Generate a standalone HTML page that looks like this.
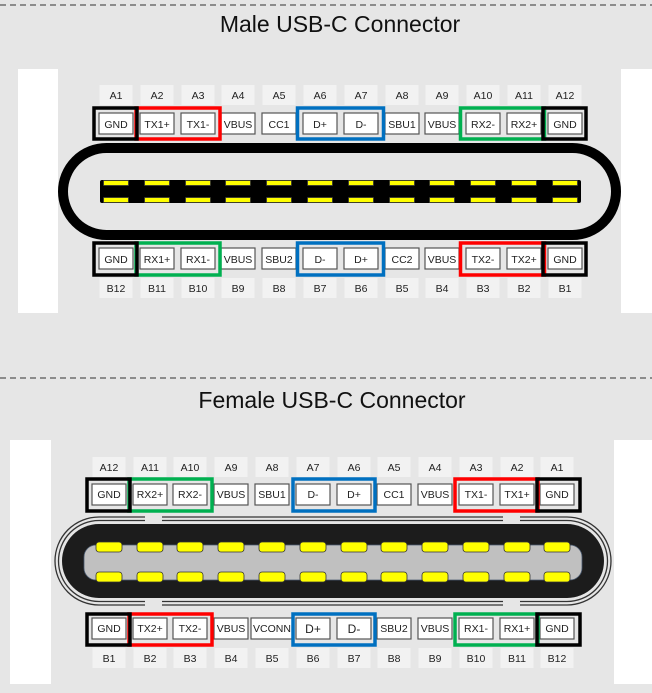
<!DOCTYPE html>
<html><head><meta charset="utf-8"><style>
html,body{margin:0;padding:0;background:#e6e6e6;}
svg{display:block}
.l{fill:#f2f2f2}
.p{fill:#fff;stroke:#555;stroke-width:1.2}
.y{fill:#ffff00;stroke:#333;stroke-width:0.8}
text{font-family:"Liberation Sans",sans-serif;font-size:10.5px;text-anchor:middle;fill:#222}
.t{font-size:23px;fill:#111}
.f{fill:none;stroke-width:3.5}
</style></head><body>
<svg width="652" height="693" viewBox="0 0 652 693" xmlns="http://www.w3.org/2000/svg">
<rect width="652" height="693" fill="#e6e6e6"/>
<line x1="0" y1="5" x2="652" y2="5" stroke="#333" stroke-dasharray="6 4"/>
<line x1="0" y1="378" x2="652" y2="378" stroke="#333" stroke-dasharray="6 4"/>
<text class="t" x="340" y="32">Male USB-C Connector</text>
<text class="t" x="332" y="408">Female USB-C Connector</text>

<!-- MALE -->
<rect x="18" y="69" width="40" height="244" fill="#fff"/>
<rect x="621" y="69" width="31" height="244" fill="#fff"/>
<rect x="63" y="148" width="553" height="87" rx="43.5" fill="none" stroke="#000" stroke-width="10"/>
<rect x="100" y="180" width="481" height="23" rx="2" fill="#000"/>
<g transform="translate(116,0)"><rect class="l" x="-16.5" y="85" width="33" height="20"/><text y="99">A1</text><rect class="p" x="-17" y="113" width="34" height="21"/><text y="128">GND</text><rect class="y" x="-12.5" y="180.5" width="25" height="5"/><rect class="y" x="-12.5" y="197.5" width="25" height="5"/><rect class="p" x="-17" y="248" width="34" height="21"/><text y="263">GND</text><rect class="l" x="-16.5" y="278" width="33" height="20"/><text y="292">B12</text></g>
<g transform="translate(157,0)"><rect class="l" x="-16.5" y="85" width="33" height="20"/><text y="99">A2</text><rect class="p" x="-17" y="113" width="34" height="21"/><text y="128">TX1+</text><rect class="y" x="-12.5" y="180.5" width="25" height="5"/><rect class="y" x="-12.5" y="197.5" width="25" height="5"/><rect class="p" x="-17" y="248" width="34" height="21"/><text y="263">RX1+</text><rect class="l" x="-16.5" y="278" width="33" height="20"/><text y="292">B11</text></g>
<g transform="translate(198,0)"><rect class="l" x="-16.5" y="85" width="33" height="20"/><text y="99">A3</text><rect class="p" x="-17" y="113" width="34" height="21"/><text y="128">TX1-</text><rect class="y" x="-12.5" y="180.5" width="25" height="5"/><rect class="y" x="-12.5" y="197.5" width="25" height="5"/><rect class="p" x="-17" y="248" width="34" height="21"/><text y="263">RX1-</text><rect class="l" x="-16.5" y="278" width="33" height="20"/><text y="292">B10</text></g>
<g transform="translate(238,0)"><rect class="l" x="-16.5" y="85" width="33" height="20"/><text y="99">A4</text><rect class="p" x="-17" y="113" width="34" height="21"/><text y="128">VBUS</text><rect class="y" x="-12.5" y="180.5" width="25" height="5"/><rect class="y" x="-12.5" y="197.5" width="25" height="5"/><rect class="p" x="-17" y="248" width="34" height="21"/><text y="263">VBUS</text><rect class="l" x="-16.5" y="278" width="33" height="20"/><text y="292">B9</text></g>
<g transform="translate(279,0)"><rect class="l" x="-16.5" y="85" width="33" height="20"/><text y="99">A5</text><rect class="p" x="-17" y="113" width="34" height="21"/><text y="128">CC1</text><rect class="y" x="-12.5" y="180.5" width="25" height="5"/><rect class="y" x="-12.5" y="197.5" width="25" height="5"/><rect class="p" x="-17" y="248" width="34" height="21"/><text y="263">SBU2</text><rect class="l" x="-16.5" y="278" width="33" height="20"/><text y="292">B8</text></g>
<g transform="translate(320,0)"><rect class="l" x="-16.5" y="85" width="33" height="20"/><text y="99">A6</text><rect class="p" x="-17" y="113" width="34" height="21"/><text y="128">D+</text><rect class="y" x="-12.5" y="180.5" width="25" height="5"/><rect class="y" x="-12.5" y="197.5" width="25" height="5"/><rect class="p" x="-17" y="248" width="34" height="21"/><text y="263">D-</text><rect class="l" x="-16.5" y="278" width="33" height="20"/><text y="292">B7</text></g>
<g transform="translate(361,0)"><rect class="l" x="-16.5" y="85" width="33" height="20"/><text y="99">A7</text><rect class="p" x="-17" y="113" width="34" height="21"/><text y="128">D-</text><rect class="y" x="-12.5" y="180.5" width="25" height="5"/><rect class="y" x="-12.5" y="197.5" width="25" height="5"/><rect class="p" x="-17" y="248" width="34" height="21"/><text y="263">D+</text><rect class="l" x="-16.5" y="278" width="33" height="20"/><text y="292">B6</text></g>
<g transform="translate(402,0)"><rect class="l" x="-16.5" y="85" width="33" height="20"/><text y="99">A8</text><rect class="p" x="-17" y="113" width="34" height="21"/><text y="128">SBU1</text><rect class="y" x="-12.5" y="180.5" width="25" height="5"/><rect class="y" x="-12.5" y="197.5" width="25" height="5"/><rect class="p" x="-17" y="248" width="34" height="21"/><text y="263">CC2</text><rect class="l" x="-16.5" y="278" width="33" height="20"/><text y="292">B5</text></g>
<g transform="translate(442,0)"><rect class="l" x="-16.5" y="85" width="33" height="20"/><text y="99">A9</text><rect class="p" x="-17" y="113" width="34" height="21"/><text y="128">VBUS</text><rect class="y" x="-12.5" y="180.5" width="25" height="5"/><rect class="y" x="-12.5" y="197.5" width="25" height="5"/><rect class="p" x="-17" y="248" width="34" height="21"/><text y="263">VBUS</text><rect class="l" x="-16.5" y="278" width="33" height="20"/><text y="292">B4</text></g>
<g transform="translate(483,0)"><rect class="l" x="-16.5" y="85" width="33" height="20"/><text y="99">A10</text><rect class="p" x="-17" y="113" width="34" height="21"/><text y="128">RX2-</text><rect class="y" x="-12.5" y="180.5" width="25" height="5"/><rect class="y" x="-12.5" y="197.5" width="25" height="5"/><rect class="p" x="-17" y="248" width="34" height="21"/><text y="263">TX2-</text><rect class="l" x="-16.5" y="278" width="33" height="20"/><text y="292">B3</text></g>
<g transform="translate(524,0)"><rect class="l" x="-16.5" y="85" width="33" height="20"/><text y="99">A11</text><rect class="p" x="-17" y="113" width="34" height="21"/><text y="128">RX2+</text><rect class="y" x="-12.5" y="180.5" width="25" height="5"/><rect class="y" x="-12.5" y="197.5" width="25" height="5"/><rect class="p" x="-17" y="248" width="34" height="21"/><text y="263">TX2+</text><rect class="l" x="-16.5" y="278" width="33" height="20"/><text y="292">B2</text></g>
<g transform="translate(565,0)"><rect class="l" x="-16.5" y="85" width="33" height="20"/><text y="99">A12</text><rect class="p" x="-17" y="113" width="34" height="21"/><text y="128">GND</text><rect class="y" x="-12.5" y="180.5" width="25" height="5"/><rect class="y" x="-12.5" y="197.5" width="25" height="5"/><rect class="p" x="-17" y="248" width="34" height="21"/><text y="263">GND</text><rect class="l" x="-16.5" y="278" width="33" height="20"/><text y="292">B1</text></g>
<!-- male frames -->
<rect class="f" stroke="#f00" x="136" y="108" width="84" height="31"/>
<rect class="f" stroke="#0070c0" x="297.5" y="108" width="86" height="31"/>
<rect class="f" stroke="#00b050" x="460.5" y="108" width="84" height="31"/>
<rect class="f" stroke="#000" x="94" y="108" width="43" height="31"/>
<rect class="f" stroke="#000" x="543" y="108" width="43" height="31"/>
<rect class="f" stroke="#00b050" x="136" y="243" width="84" height="32"/>
<rect class="f" stroke="#0070c0" x="297.5" y="243" width="86" height="32"/>
<rect class="f" stroke="#f00" x="460.5" y="243" width="84" height="32"/>
<rect class="f" stroke="#000" x="94" y="243" width="43" height="32"/>
<rect class="f" stroke="#000" x="543" y="243" width="43" height="32"/>

<!-- FEMALE -->
<rect x="10" y="440" width="41" height="244" fill="#fff"/>
<rect x="614" y="440" width="38" height="244" fill="#fff"/>
<rect x="55" y="517" width="556" height="88" rx="44" fill="none" stroke="#333" stroke-width="1.3"/>
<rect x="58.5" y="520.5" width="549" height="81" rx="40.5" fill="none" stroke="#333" stroke-width="1.3"/>
<rect x="145" y="514" width="17" height="8" fill="#e6e6e6"/>
<rect x="503" y="514" width="17" height="8" fill="#e6e6e6"/>
<rect x="145" y="600" width="17" height="8" fill="#e6e6e6"/>
<rect x="503" y="600" width="17" height="8" fill="#e6e6e6"/>
<rect x="62" y="524" width="542" height="74" rx="37" fill="#1c1c1c"/>
<rect x="84" y="545" width="498" height="35" rx="12" fill="#c0c0c0" stroke="#4a5a70" stroke-width="0.8"/>
<g transform="translate(109,0)"><rect class="l" x="-16.5" y="457" width="33" height="20"/><text y="471">A12</text><rect class="p" x="-17" y="484" width="34" height="21"/><text y="498">GND</text><rect class="y" x="-13" y="542" width="26" height="10" rx="3"/><rect class="y" x="-13" y="572" width="26" height="10" rx="3"/><rect class="p" x="-17" y="618" width="34" height="21"/><text y="632">GND</text><rect class="l" x="-16.5" y="648" width="33" height="20"/><text y="662">B1</text></g>
<g transform="translate(150,0)"><rect class="l" x="-16.5" y="457" width="33" height="20"/><text y="471">A11</text><rect class="p" x="-17" y="484" width="34" height="21"/><text y="498">RX2+</text><rect class="y" x="-13" y="542" width="26" height="10" rx="3"/><rect class="y" x="-13" y="572" width="26" height="10" rx="3"/><rect class="p" x="-17" y="618" width="34" height="21"/><text y="632">TX2+</text><rect class="l" x="-16.5" y="648" width="33" height="20"/><text y="662">B2</text></g>
<g transform="translate(190,0)"><rect class="l" x="-16.5" y="457" width="33" height="20"/><text y="471">A10</text><rect class="p" x="-17" y="484" width="34" height="21"/><text y="498">RX2-</text><rect class="y" x="-13" y="542" width="26" height="10" rx="3"/><rect class="y" x="-13" y="572" width="26" height="10" rx="3"/><rect class="p" x="-17" y="618" width="34" height="21"/><text y="632">TX2-</text><rect class="l" x="-16.5" y="648" width="33" height="20"/><text y="662">B3</text></g>
<g transform="translate(231,0)"><rect class="l" x="-16.5" y="457" width="33" height="20"/><text y="471">A9</text><rect class="p" x="-17" y="484" width="34" height="21"/><text y="498">VBUS</text><rect class="y" x="-13" y="542" width="26" height="10" rx="3"/><rect class="y" x="-13" y="572" width="26" height="10" rx="3"/><rect class="p" x="-17" y="618" width="34" height="21"/><text y="632">VBUS</text><rect class="l" x="-16.5" y="648" width="33" height="20"/><text y="662">B4</text></g>
<g transform="translate(272,0)"><rect class="l" x="-16.5" y="457" width="33" height="20"/><text y="471">A8</text><rect class="p" x="-17" y="484" width="34" height="21"/><text y="498">SBU1</text><rect class="y" x="-13" y="542" width="26" height="10" rx="3"/><rect class="y" x="-13" y="572" width="26" height="10" rx="3"/><rect class="p" x="-21" y="618" width="42" height="21"/><text y="632">VCONN</text><rect class="l" x="-16.5" y="648" width="33" height="20"/><text y="662">B5</text></g>
<g transform="translate(313,0)"><rect class="l" x="-16.5" y="457" width="33" height="20"/><text y="471">A7</text><rect class="p" x="-17" y="484" width="34" height="21"/><text y="498">D-</text><rect class="y" x="-13" y="542" width="26" height="10" rx="3"/><rect class="y" x="-13" y="572" width="26" height="10" rx="3"/><rect class="p" x="-17" y="618" width="34" height="21"/><text y="633" style="font-size:12px">D+</text><rect class="l" x="-16.5" y="648" width="33" height="20"/><text y="662">B6</text></g>
<g transform="translate(354,0)"><rect class="l" x="-16.5" y="457" width="33" height="20"/><text y="471">A6</text><rect class="p" x="-17" y="484" width="34" height="21"/><text y="498">D+</text><rect class="y" x="-13" y="542" width="26" height="10" rx="3"/><rect class="y" x="-13" y="572" width="26" height="10" rx="3"/><rect class="p" x="-17" y="618" width="34" height="21"/><text y="633" style="font-size:12px">D-</text><rect class="l" x="-16.5" y="648" width="33" height="20"/><text y="662">B7</text></g>
<g transform="translate(394,0)"><rect class="l" x="-16.5" y="457" width="33" height="20"/><text y="471">A5</text><rect class="p" x="-17" y="484" width="34" height="21"/><text y="498">CC1</text><rect class="y" x="-13" y="542" width="26" height="10" rx="3"/><rect class="y" x="-13" y="572" width="26" height="10" rx="3"/><rect class="p" x="-17" y="618" width="34" height="21"/><text y="632">SBU2</text><rect class="l" x="-16.5" y="648" width="33" height="20"/><text y="662">B8</text></g>
<g transform="translate(435,0)"><rect class="l" x="-16.5" y="457" width="33" height="20"/><text y="471">A4</text><rect class="p" x="-17" y="484" width="34" height="21"/><text y="498">VBUS</text><rect class="y" x="-13" y="542" width="26" height="10" rx="3"/><rect class="y" x="-13" y="572" width="26" height="10" rx="3"/><rect class="p" x="-17" y="618" width="34" height="21"/><text y="632">VBUS</text><rect class="l" x="-16.5" y="648" width="33" height="20"/><text y="662">B9</text></g>
<g transform="translate(476,0)"><rect class="l" x="-16.5" y="457" width="33" height="20"/><text y="471">A3</text><rect class="p" x="-17" y="484" width="34" height="21"/><text y="498">TX1-</text><rect class="y" x="-13" y="542" width="26" height="10" rx="3"/><rect class="y" x="-13" y="572" width="26" height="10" rx="3"/><rect class="p" x="-17" y="618" width="34" height="21"/><text y="632">RX1-</text><rect class="l" x="-16.5" y="648" width="33" height="20"/><text y="662">B10</text></g>
<g transform="translate(517,0)"><rect class="l" x="-16.5" y="457" width="33" height="20"/><text y="471">A2</text><rect class="p" x="-17" y="484" width="34" height="21"/><text y="498">TX1+</text><rect class="y" x="-13" y="542" width="26" height="10" rx="3"/><rect class="y" x="-13" y="572" width="26" height="10" rx="3"/><rect class="p" x="-17" y="618" width="34" height="21"/><text y="632">RX1+</text><rect class="l" x="-16.5" y="648" width="33" height="20"/><text y="662">B11</text></g>
<g transform="translate(557,0)"><rect class="l" x="-16.5" y="457" width="33" height="20"/><text y="471">A1</text><rect class="p" x="-17" y="484" width="34" height="21"/><text y="498">GND</text><rect class="y" x="-13" y="542" width="26" height="10" rx="3"/><rect class="y" x="-13" y="572" width="26" height="10" rx="3"/><rect class="p" x="-17" y="618" width="34" height="21"/><text y="632">GND</text><rect class="l" x="-16.5" y="648" width="33" height="20"/><text y="662">B12</text></g>
<!-- female frames -->
<rect class="f" stroke="#00b050" x="129" y="479" width="83" height="32"/>
<rect class="f" stroke="#0070c0" x="293" y="479" width="82" height="32"/>
<rect class="f" stroke="#f00" x="455" y="479" width="83" height="32"/>
<rect class="f" stroke="#000" x="87" y="479" width="43" height="32"/>
<rect class="f" stroke="#000" x="537" y="479" width="43" height="32"/>
<rect class="f" stroke="#f00" x="129" y="614" width="83" height="31"/>
<rect class="f" stroke="#0070c0" x="293" y="614" width="82" height="31"/>
<rect class="f" stroke="#00b050" x="455" y="614" width="83" height="31"/>
<rect class="f" stroke="#000" x="87" y="614" width="43" height="31"/>
<rect class="f" stroke="#000" x="537" y="614" width="43" height="31"/>
</svg>
</body></html>
